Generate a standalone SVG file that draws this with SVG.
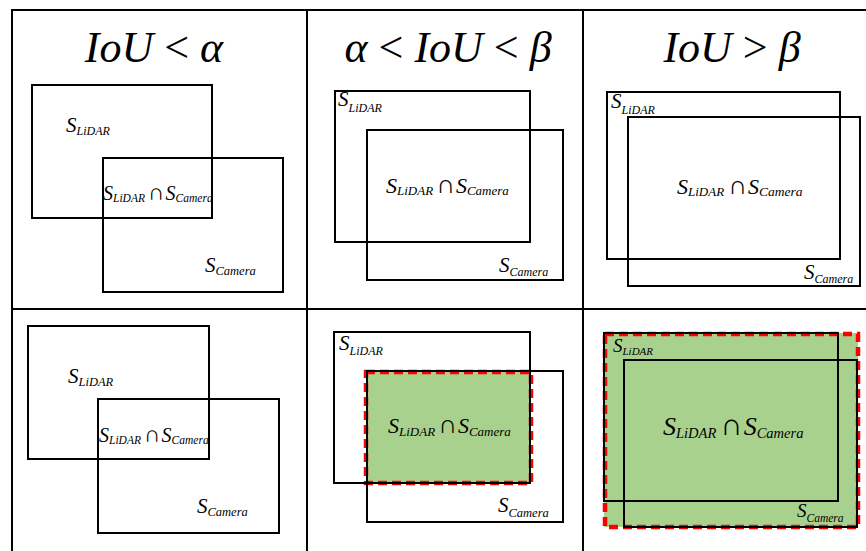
<svg xmlns="http://www.w3.org/2000/svg" width="866" height="551" viewBox="0 0 866 551">
<style>
.grid{stroke:#000;stroke-width:2;fill:none}
.box{stroke:#000;stroke-width:2;fill:none}
.hit{fill:#A9D18E;stroke:none}
.dash{fill:none;stroke:#FF0000;stroke-width:4.5;stroke-dasharray:9 5}
text{font-family:'Liberation Serif','Times New Roman',serif;font-style:italic;fill:#000}
.title{font-size:44px}
.up{font-style:normal}
</style>
<rect width="866" height="551" fill="#fff"/>
<g id="table">
<line class="grid" x1="12" y1="10" x2="866" y2="10"/>
<line class="grid" x1="12" y1="309" x2="866" y2="309"/>
<line class="grid" x1="12" y1="9" x2="12" y2="551"/>
<line class="grid" x1="307" y1="9" x2="307" y2="551"/>
<line class="grid" x1="583" y1="9" x2="583" y2="551"/>
</g>
<g id="connectors"></g>
<g id="title-1"><text class="title" x="154" y="62" text-anchor="middle">IoU <tspan class="up">&lt;</tspan> α</text></g>
<g id="title-2"><text class="title" x="448" y="62" text-anchor="middle">α <tspan class="up">&lt;</tspan> IoU <tspan class="up">&lt;</tspan> β</text></g>
<g id="title-3"><text class="title" x="732" y="62" text-anchor="middle">IoU <tspan class="up">&gt;</tspan> β</text></g>

<g id="cell-1-1">
<rect class="box" x="32" y="85" width="180" height="133"/>
<rect class="box" x="103" y="158" width="180" height="134"/>
<text x="66" y="132" font-size="21">S<tspan font-size="12" dy="3">LiDAR</tspan></text>
<text x="103" y="200" font-size="20">S<tspan font-size="11.5" dy="2">LiDAR</tspan><tspan class="up" dy="-2" dx="3" font-size="23">∩</tspan><tspan dx="1">S</tspan><tspan font-size="11.5" dy="2">Camera</tspan></text>
<text x="205" y="272" font-size="21">S<tspan font-size="12.5" dy="3">Camera</tspan></text>
</g>

<g id="cell-1-2">
<rect class="box" x="335" y="91" width="195" height="151"/>
<rect class="box" x="367" y="130" width="196" height="150"/>
<text x="338" y="106" font-size="21">S<tspan font-size="12" dy="6">LiDAR</tspan></text>
<text x="386" y="193" font-size="22">S<tspan font-size="13" dy="2">LiDAR</tspan><tspan class="up" dy="-2" dx="3" font-size="26">∩</tspan><tspan dx="1">S</tspan><tspan font-size="13" dy="2">Camera</tspan></text>
<text x="499" y="272" font-size="21">S<tspan font-size="12" dy="4">Camera</tspan></text>
</g>

<g id="cell-1-3">
<rect class="box" x="607" y="92" width="233" height="167"/>
<rect class="box" x="628" y="117" width="232" height="169"/>
<text x="611" y="108" font-size="21">S<tspan font-size="12" dy="6">LiDAR</tspan></text>
<text x="677" y="194" font-size="22">S<tspan font-size="13" dy="2">LiDAR</tspan><tspan class="up" dy="-2" dx="4" font-size="26">∩</tspan><tspan dx="1">S</tspan><tspan font-size="13.5" dy="2">Camera</tspan></text>
<text x="804" y="279" font-size="21">S<tspan font-size="12" dy="4">Camera</tspan></text>
</g>

<g id="cell-2-1">
<rect class="box" x="28" y="326" width="181" height="133"/>
<rect class="box" x="98" y="399" width="181" height="134"/>
<text x="68" y="383" font-size="21">S<tspan font-size="12.5" dy="3">LiDAR</tspan></text>
<text x="99" y="442" font-size="20">S<tspan font-size="11.5" dy="2">LiDAR</tspan><tspan class="up" dy="-2" dx="3" font-size="23">∩</tspan><tspan dx="1">S</tspan><tspan font-size="11.5" dy="2">Camera</tspan></text>
<text x="197" y="513" font-size="21">S<tspan font-size="12.5" dy="3">Camera</tspan></text>
</g>

<g id="cell-2-2">
<rect class="hit" x="367" y="371" width="163" height="112"/>
<rect class="dash" x="366" y="372" width="165" height="111"/>
<rect class="box" x="334" y="332" width="196" height="151"/>
<rect class="box" x="367" y="371" width="196" height="151"/>
<text x="339" y="350" font-size="21">S<tspan font-size="12" dy="5">LiDAR</tspan></text>
<text x="388" y="433" font-size="22">S<tspan font-size="13" dy="3">LiDAR</tspan><tspan class="up" dy="-3" dx="3" font-size="26">∩</tspan><tspan dx="1">S</tspan><tspan font-size="13" dy="3">Camera</tspan></text>
<text x="498" y="512" font-size="21">S<tspan font-size="12.5" dy="5">Camera</tspan></text>
</g>

<g id="cell-2-3">
<rect class="hit" x="604" y="333" width="254" height="194"/>
<rect class="dash" x="605" y="334" width="253" height="193"/>
<rect class="box" x="604" y="333" width="234" height="168"/>
<rect class="box" x="624" y="360" width="233" height="167"/>
<text x="613" y="352" font-size="19">S<tspan font-size="11" dy="3">LiDAR</tspan></text>
<text x="663" y="435" font-size="26">S<tspan font-size="14.5" dy="3">LiDAR</tspan><tspan class="up" dy="-3" dx="4" font-size="31">∩</tspan><tspan dx="1">S</tspan><tspan font-size="14.5" dy="3">Camera</tspan></text>
<text x="797" y="517" font-size="19">S<tspan font-size="11.5" dy="5">Camera</tspan></text>
</g>
</svg>
